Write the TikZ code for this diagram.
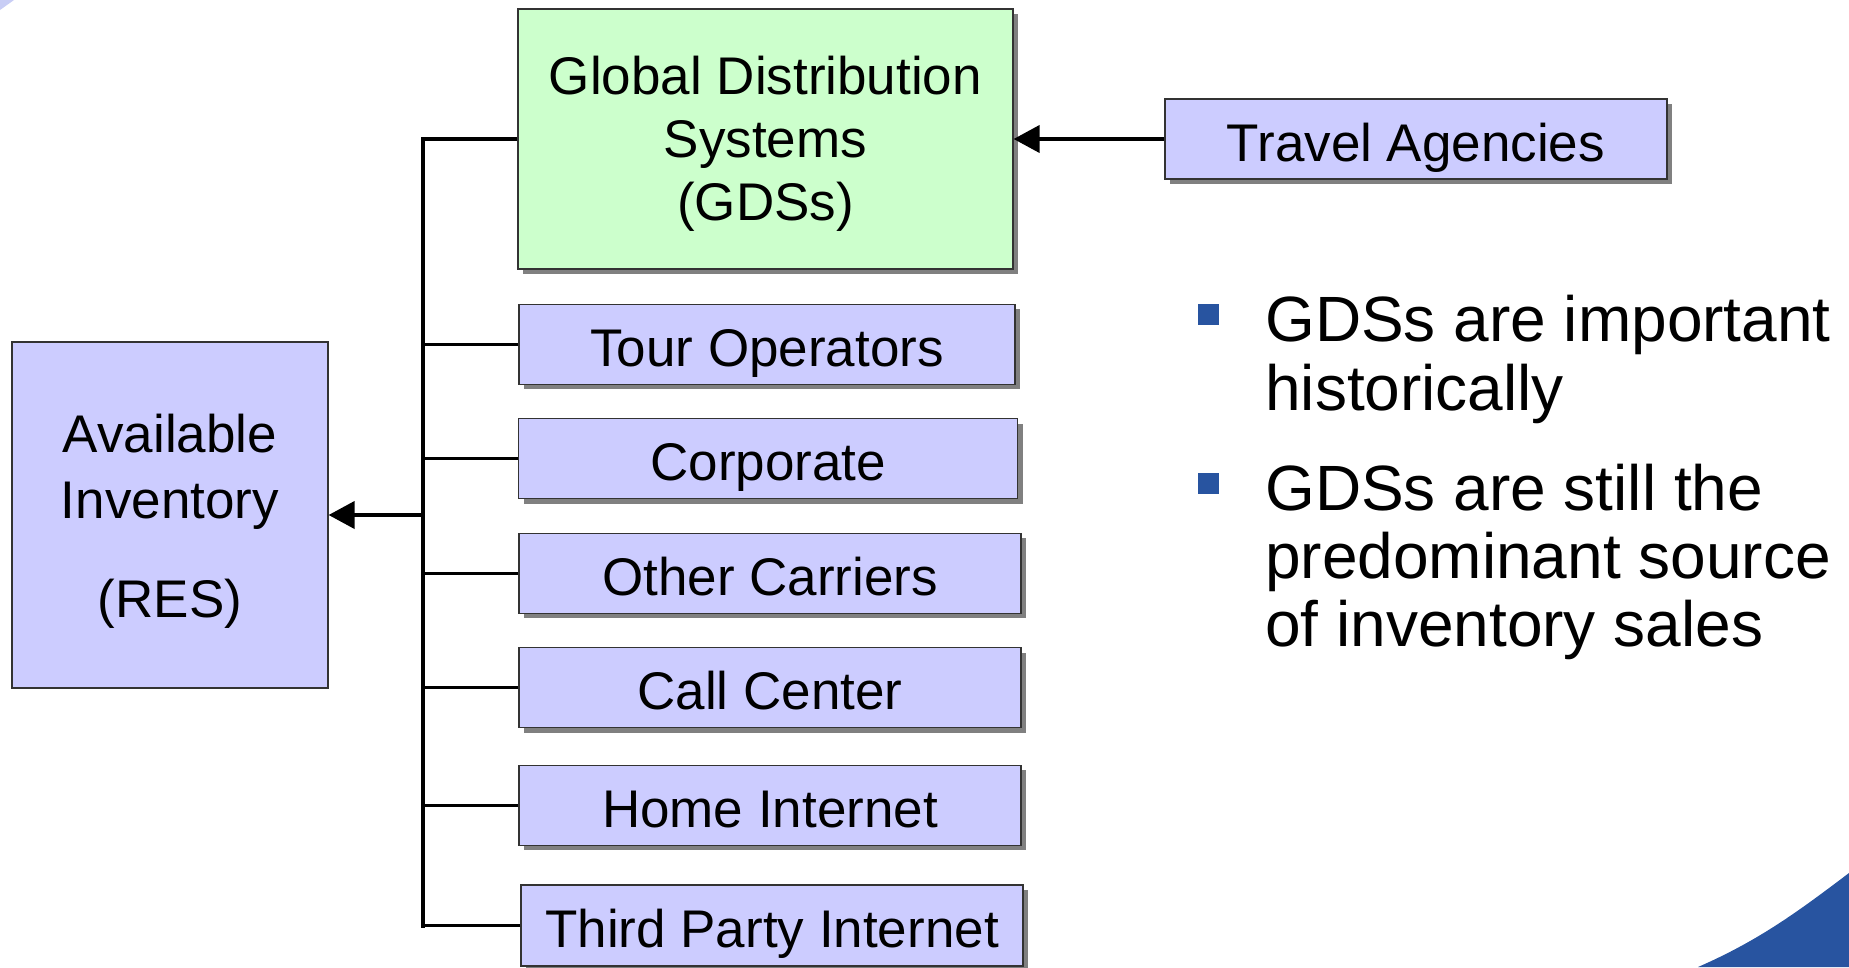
\documentclass[tikz,border=0pt]{standalone}
\usepackage{fontspec}
\setmainfont{Liberation Sans}
\usetikzlibrary{arrows.meta,shadows}
\definecolor{boxblue}{RGB}{204,204,255}
\definecolor{boxgreen}{RGB}{204,255,204}
\definecolor{shadegray}{RGB}{128,128,128}
\definecolor{accent}{RGB}{40,84,160}
\definecolor{cornerblue}{RGB}{200,205,245}
\begin{document}
\begin{tikzpicture}[x=1pt,y=-1pt,
  boxbase/.style={draw=black!80, line width=1.2pt, inner sep=0pt},
  shadowed/.style={drop shadow={shadow xshift=5pt, shadow yshift=-5pt, fill=shadegray, opacity=1}},
  chan/.style={boxbase, shadowed, fill=boxblue, minimum height=80pt,
     font=\fontsize{53}{63.6}\selectfont, text height=48pt, text depth=4pt},
  boxtext/.style={anchor=base, inner sep=0pt, font=\fontsize{53}{63.6}\selectfont},
  bullettext/.style={anchor=base west, inner sep=0pt, font=\fontsize{64}{68}\selectfont},
  bulletmark/.style={fill=accent, inner sep=0pt, minimum size=21pt},
  branch/.style={line width=3.2pt, draw=black},
  busline/.style={line width=4.5pt, draw=black, line cap=rect},
  tip/.style={-{Triangle[length=26pt,width=27pt]}},
]
\useasboundingbox (0,0) rectangle (1849,967);

% background decorations
\fill[cornerblue] (0,0) -- (14,0) -- (0,10) -- cycle;
\fill[accent] (1698,967) .. controls (1760,940) and (1800,910) .. (1849,873) -- (1849,967) -- cycle;

% sales channels
\node[boxbase, shadowed, fill=boxgreen, minimum width=495pt, minimum height=260pt] (gds) at (765.5,139) {};
\node[boxtext] (gdsA) at (765.5,94) {Global Distribution};
\node[boxtext] (gdsB) at (765.5,157) {Systems};
\node[boxtext] (gdsC) at (765.5,220) {(GDSs)};

\node[chan, minimum width=502pt] (travel) at (1416,139) {Travel Agencies};
\node[chan, minimum width=496pt] (tour)   at (767,344.3) {Tour Operators};
\node[chan, minimum width=499pt] (corp)   at (768.2,458.7) {Corporate};
\node[chan, minimum width=502pt] (other)  at (770,573.1) {Other Carriers};
\node[chan, minimum width=502pt] (call)   at (770,687.5) {Call Center};
\node[chan, minimum width=502pt] (home)   at (770,805.4) {Home Internet};
\node[chan, minimum width=502pt, minimum height=81pt] (third) at (772,925.5) {Third Party Internet};

% reservation system
\node[boxbase, fill=boxblue, minimum width=316pt, minimum height=346pt] (ai) at (170,515) {};
\node[boxtext] (aiA) at (170,452) {Available};
\node[boxtext] (aiB) at (170,518) {Inventory};
\node[boxtext] (aiC) at (170,617) {(RES)};

% connectors
\coordinate (busx) at (423,0);
\draw[busline] (gds.west -| busx) -- (third.west -| busx);
\foreach \b in {gds,tour,corp,other,call,home,third}
  \draw[branch] (\b.west) -- (\b.west -| busx);
\draw[line width=4pt, tip] (ai.east -| busx) -- (ai.east);
\draw[line width=4pt, tip] (travel.west) -- (gds.east);

% notes
\node[bulletmark] (m1) at (1208,314) {};
\node[bullettext] (t1a) at (1265,341.7) {GDSs are important};
\node[bullettext] (t1b) at (1265,410) {historically};
\node[bulletmark] (m2) at (1208,483) {};
\node[bullettext] (t2a) at (1265,510) {GDSs are still the};
\node[bullettext] (t2b) at (1265,578.3) {predominant source};
\node[bullettext] (t2c) at (1265,646.7) {of inventory sales};
\end{tikzpicture}
\end{document}
